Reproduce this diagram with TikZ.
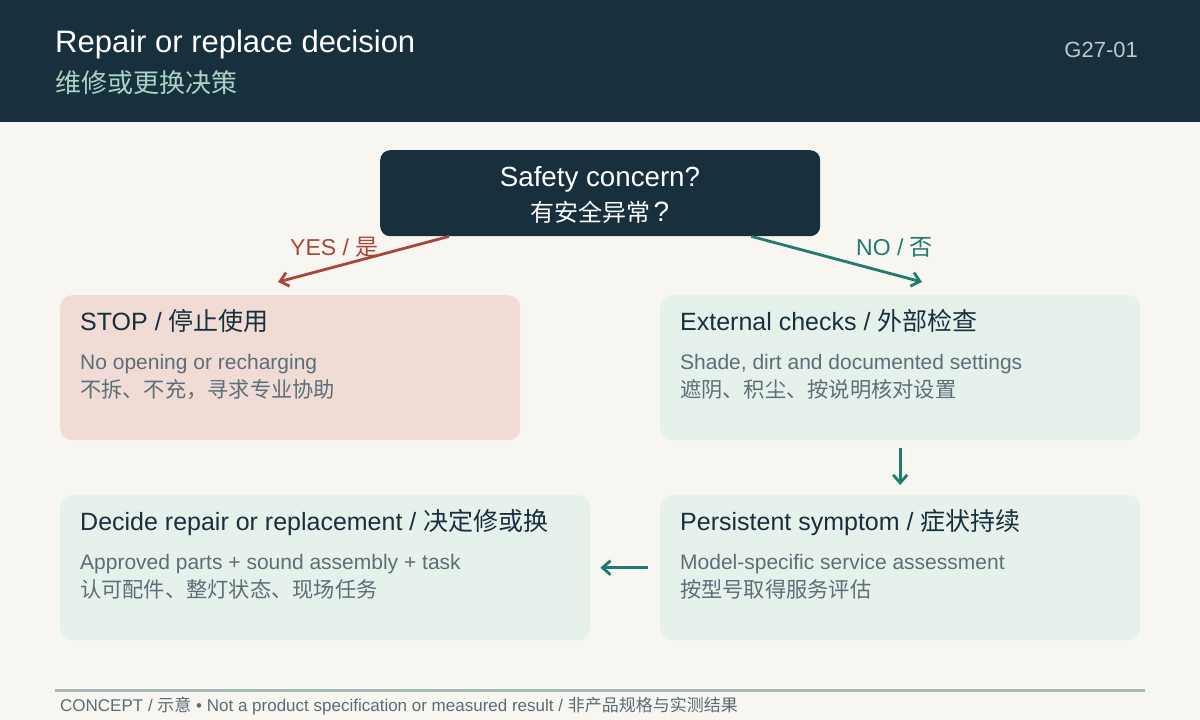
\documentclass[tikz,border=0pt]{standalone}
\usepackage{fontspec}
\setmainfont{Liberation Sans}
\newfontfamily\cjk{Noto Sans CJK SC}
\usetikzlibrary{arrows.meta,calc}
\definecolor{navy}{HTML}{182F3D}
\definecolor{bgc}{HTML}{F7F6F1}
\definecolor{stopfill}{HTML}{F0DBD5}
\definecolor{greenfill}{HTML}{E6F1EC}
\definecolor{bodytext}{HTML}{5C6F78}
\definecolor{redc}{HTML}{A8463C}
\definecolor{tealc}{HTML}{1F7A70}
\definecolor{subc}{HTML}{A9D3C4}
\definecolor{codec}{HTML}{B9C9D0}
\definecolor{rulec}{HTML}{A8B8B7}
\definecolor{footc}{HTML}{5A6C75}
\newcommand{\fsz}[1]{\fontsize{#1}{#1}\selectfont}
\tikzset{
  card/.style={draw=none, rounded corners=12pt, anchor=north west, inner sep=0pt},
  cardtitle/.style={anchor=base west, inner sep=0pt, text=navy, font=\fsz{25}},
  cardbody/.style={anchor=base west, inner sep=0pt, text=bodytext, font=\fsz{21}},
  arr/.style={line width=2.8pt, -{Straight Barb[length=8pt,width=14pt,line width=2.8pt]}},
  lbl/.style={anchor=base west, inner sep=0pt, font=\fsz{23}},
}
\begin{document}
\begin{tikzpicture}[x=1pt,y=-1pt]
\useasboundingbox (0,0) rectangle (1200,720);
\fill[bgc] (0,0) rectangle (1200,720);
% header
\fill[navy] (0,0) rectangle (1200,122);
\node[anchor=base west, inner sep=0pt, text=white, font=\fsz{31}] (title) at (55,52.5) {Repair or replace decision};
\node[anchor=base west, inner sep=0pt, text=subc, font=\fsz{26}\cjk] (subtitle) at (55,92) {维修或更换决策};
\node[anchor=base east, inner sep=0pt, text=codec, font=\fsz{22}] (code) at (1138,57) {G27-01};
% question node
\node[card, fill=navy, rounded corners=10pt, minimum width=440pt, minimum height=86pt] (q) at (380,150) {};
\node[anchor=base, inner sep=0pt, text=white, font=\fsz{27.7}] (qen) at (600,186) {Safety concern?};
\node[anchor=base, inner sep=0pt, text=white, font=\fsz{28}] (qzh) at (600,221) {{\cjk\fsz{24}有安全异常}\kern3pt?};
% cards
\node[card, fill=stopfill, minimum width=460pt, minimum height=145pt] (stop) at (60,295) {};
\node[card, fill=greenfill, minimum width=480pt, minimum height=145pt] (ext) at (660,295) {};
\node[card, fill=greenfill, minimum width=480pt, minimum height=145pt] (per) at (660,495) {};
\node[card, fill=greenfill, minimum width=530pt, minimum height=145pt] (dec) at (60,495) {};
% card texts
\node[cardtitle] (stopt) at ($(stop.north west)+(20,35)$) {STOP / {\cjk 停止使用}};
\node[cardbody] (stopb1) at ($(stop.north west)+(20,74)$) {No opening or recharging};
\node[cardbody, font=\fsz{21.25}\cjk] (stopb2) at ($(stop.north west)+(20,102)$) {不拆、不充，寻求专业协助};
\node[cardtitle] (extt) at ($(ext.north west)+(20,35)$) {External checks / {\cjk 外部检查}};
\node[cardbody] (extb1) at ($(ext.north west)+(20,74)$) {Shade, dirt and documented settings};
\node[cardbody, font=\fsz{21.25}\cjk] (extb2) at ($(ext.north west)+(20,102)$) {遮阴、积尘、按说明核对设置};
\node[cardtitle] (pert) at ($(per.north west)+(20,35)$) {Persistent symptom / {\cjk 症状持续}};
\node[cardbody] (perb1) at ($(per.north west)+(20,74)$) {Model-specific service assessment};
\node[cardbody, font=\fsz{21.25}\cjk] (perb2) at ($(per.north west)+(20,102)$) {按型号取得服务评估};
\node[cardtitle] (dect) at ($(dec.north west)+(20,35)$) {Decide repair or replacement / {\cjk 决定修或换}};
\node[cardbody] (decb1) at ($(dec.north west)+(20,74)$) {Approved parts + sound assembly + task};
\node[cardbody, font=\fsz{21.25}\cjk] (decb2) at ($(dec.north west)+(20,102)$) {认可配件、整灯状态、现场任务};
% connectors
\draw[arr, redc] ($(q.south west)+(69,0)$) -- ($(stop.north west)+(218,-13)$);
\draw[arr, tealc] ($(q.south east)+(-69,0)$) -- ($(ext.north west)+(262,-13)$);
\draw[arr, tealc, shorten <=8pt, shorten >=10pt] (ext.south) -- (per.north);
\draw[arr, tealc, shorten <=12pt, shorten >=10pt] (per.west) -- (dec.east);
\node[lbl, text=redc] (yes) at (290,255) {YES / {\cjk 是}};
\node[lbl, text=tealc] (no) at (856,255) {NO / {\cjk 否}};
% footer
\draw[rulec, line width=3pt] (55,690) -- (1145,690);
\node[anchor=base west, inner sep=0pt, text=footc, font=\fsz{17}] (foot) at (60,711) {CONCEPT / {\cjk 示意} • Not a product specification or measured result / {\cjk 非产品规格与实测结果}};
\end{tikzpicture}
\end{document}
